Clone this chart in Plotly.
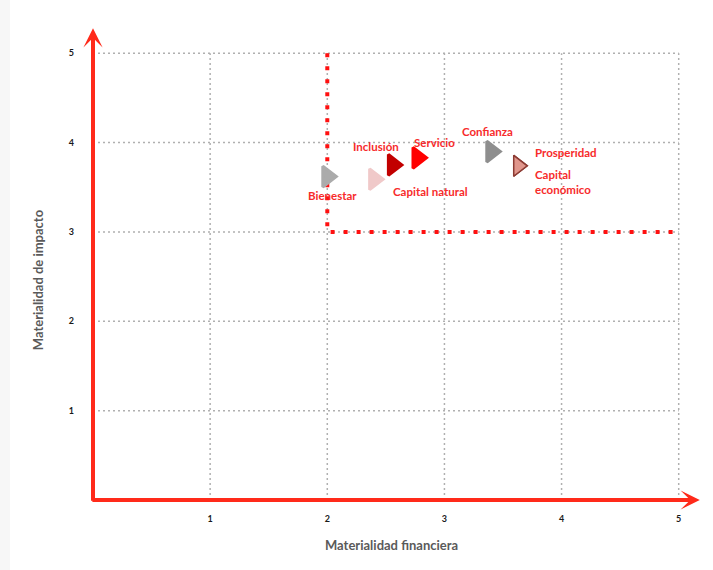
import plotly.graph_objects as go

# Materiality matrix: financial materiality (x) vs impact materiality (y)
topics = ["Bienestar", "Capital natural", "Inclusión", "Servicio",
          "Confianza", "Capital económico", "Prosperidad"]
financiera = [2.00, 2.40, 2.56, 2.77, 3.40, 3.63, 3.63]
impacto = [3.62, 3.59, 3.75, 3.83, 3.90, 3.74, 3.74]
fill_colors = ["#ababab", "#f0c9c9", "#c20000", "#ff0000",
               "#8e8e8e", "#e0968c", "#e0968c"]
edge_colors = ["#ababab", "#f0c9c9", "#c20000", "#ff0000",
               "#8e8e8e", "#8c3b33", "#8c3b33"]
edge_widths = [3, 3, 3, 3, 3, 1.5, 1.5]

tick_vals = [1, 2, 3, 4, 5]
tick_text = ["1", "2", "3", "4", "5"]

# thresholds of the material zone
umbral_x = 2
umbral_y = 3
tope = 5

# label placement (pixel offsets from each point)
label_style = {
    "Bienestar": dict(xshift=5, yshift=-19, xanchor="center"),
    "Capital natural": dict(xshift=56, yshift=-12, xanchor="center"),
    "Inclusión": dict(xshift=-17, yshift=18, xanchor="center"),
    "Servicio": dict(xshift=17, yshift=15, xanchor="center"),
    "Confianza": dict(xshift=-4, yshift=20, xanchor="center"),
    "Prosperidad": dict(xshift=15, yshift=13, xanchor="left"),
    "Capital económico": dict(xshift=15, yshift=-16, xanchor="left"),
}

RED = "#ff2a1a"
LABEL_RED = "#f72b2b"
FONT = "Lato"

fig = go.Figure()

# dotted red threshold lines
fig.add_trace(go.Scatter(
    x=[umbral_x, umbral_x, tope], y=[tope, umbral_y, umbral_y],
    mode="lines", line=dict(color="#ff1010", width=4, dash="4px,9px"),
    hoverinfo="skip", showlegend=False))

# topic markers
for t, xv, yv, fc, ec, ew in zip(topics, financiera, impacto,
                                 fill_colors, edge_colors, edge_widths):
    fig.add_trace(go.Scatter(
        x=[xv], y=[yv], mode="markers", name=t, showlegend=False,
        marker=dict(symbol="triangle-right", size=18, color=fc,
                    line=dict(color=ec, width=ew))))

shapes = []
# dotted gray grid limited to the 0..5 square
for v in tick_vals:
    shapes.append(dict(type="line", xref="x", yref="y", x0=v, x1=v, y0=0, y1=tope,
                       line=dict(color="#b0b0b0", width=1.5, dash="2px,3px"), layer="below"))
    shapes.append(dict(type="line", xref="x", yref="y", x0=0, x1=tope, y0=v, y1=v,
                       line=dict(color="#b0b0b0", width=1.5, dash="2px,3px"), layer="below"))
# light strip at the left edge of the page
shapes.append(dict(type="rect", xref="paper", yref="paper",
                   x0=-93 / 615, x1=-83 / 615, y0=-70 / 478, y1=1 + 22 / 478,
                   fillcolor="#f7f7f7", line=dict(width=0), layer="below"))

annotations = []
# red axes with arrow heads
annotations.append(dict(x=0, y=5.28, ax=0, ay=-0.025, xref="x", yref="y",
                        axref="x", ayref="y", text="", showarrow=True,
                        arrowhead=3, arrowsize=0.8, arrowwidth=4, arrowcolor=RED))
annotations.append(dict(x=5.18, y=0, ax=-0.018, ay=0, xref="x", yref="y",
                        axref="x", ayref="y", text="", showarrow=True,
                        arrowhead=3, arrowsize=0.8, arrowwidth=4, arrowcolor=RED))

# topic labels
for t, xv, yv in zip(topics, financiera, impacto):
    st = label_style[t]
    text = "Capital<br>económico" if t == "Capital económico" else t
    annotations.append(dict(x=xv, y=yv, text=text, showarrow=False,
                            xshift=st["xshift"], yshift=st["yshift"],
                            xanchor=st["xanchor"], yanchor="middle", align="left",
                            font=dict(family=FONT, size=11.5, color=LABEL_RED, weight="bold")))

# axis titles
annotations.append(dict(x=2.545, y=-45 / 478, xref="x", yref="paper",
                        xanchor="center", yanchor="middle",
                        text="Materialidad financiera", showarrow=False,
                        font=dict(family=FONT, size=13, color="#5a5a5a", weight="bold")))
annotations.append(dict(x=-55 / 615, y=2.46, xref="paper", yref="y",
                        xanchor="center", yanchor="middle",
                        text="Materialidad de impacto", showarrow=False, textangle=-90,
                        font=dict(family=FONT, size=13, color="#5a5a5a", weight="bold")))

fig.update_layout(
    width=713, height=570,
    margin=dict(l=93, r=5, t=22, b=70),
    paper_bgcolor="white", plot_bgcolor="white",
    shapes=shapes, annotations=annotations,
    xaxis=dict(range=[0, 5.25], tickvals=tick_vals, ticktext=tick_text,
               showgrid=False, zeroline=False, showline=False, ticks="",
               ticklabelstandoff=12,
               tickfont=dict(family=FONT, size=9, color="#1a1a1a", weight="bold")),
    yaxis=dict(range=[0, 5.35], tickvals=tick_vals, ticktext=tick_text,
               showgrid=False, zeroline=False, showline=False, ticks="",
               ticklabelstandoff=18,
               tickfont=dict(family=FONT, size=9, color="#1a1a1a", weight="bold")),
)

fig.write_html("out.html")
